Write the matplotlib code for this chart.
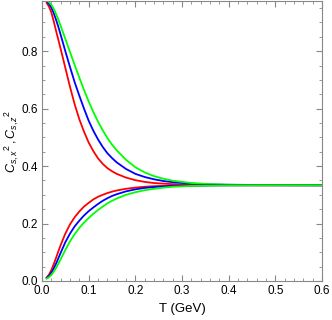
import matplotlib
matplotlib.use("Agg")
import matplotlib.pyplot as plt
from matplotlib.ticker import MultipleLocator

plt.rcParams['font.family'] = ['Liberation Sans', 'DejaVu Sans']
plt.rcParams['mathtext.fontset'] = 'custom'
plt.rcParams['mathtext.rm'] = 'Liberation Sans'
plt.rcParams['mathtext.it'] = 'Liberation Sans:italic'

# temperature grid (GeV)
T = [0.01, 0.015, 0.02, 0.025, 0.03, 0.035, 0.04,
     0.05, 0.06, 0.07, 0.08, 0.09, 0.10, 0.11, 0.12, 0.13, 0.14, 0.15, 0.16,
     0.18, 0.20, 0.22, 0.24, 0.26, 0.28,
     0.32, 0.36, 0.40,
     0.50, 0.60]

# upper branch
upper_red = [0.968, 0.955, 0.935, 0.905, 0.872, 0.840, 0.808,
             0.742, 0.676, 0.615, 0.563, 0.520, 0.482, 0.452, 0.427, 0.408,
             0.393, 0.382, 0.373,
             0.360, 0.351, 0.345, 0.341, 0.339, 0.337,
             0.335, 0.334, 0.3337,
             0.3334, 0.3333]
upper_blue = [0.974, 0.965, 0.952, 0.933, 0.910, 0.885, 0.857,
              0.800, 0.745, 0.692, 0.645, 0.600, 0.558, 0.523, 0.493, 0.467,
              0.445, 0.428, 0.413,
              0.390, 0.373, 0.362, 0.354, 0.348, 0.344,
              0.339, 0.336, 0.335,
              0.3337, 0.3334]
upper_green = [0.977, 0.971, 0.962, 0.948, 0.930, 0.910, 0.888,
               0.843, 0.797, 0.752, 0.708, 0.665, 0.625, 0.588, 0.555, 0.525,
               0.498, 0.475, 0.455,
               0.422, 0.396, 0.378, 0.365, 0.356, 0.349,
               0.341, 0.337, 0.335,
               0.3338, 0.3334]

# lower branch
lower_red = [0.012, 0.022, 0.038, 0.058, 0.080, 0.103, 0.125,
             0.165, 0.197, 0.222, 0.242, 0.259, 0.272, 0.284, 0.293, 0.300,
             0.306, 0.311, 0.315,
             0.321, 0.325, 0.328, 0.330, 0.331, 0.332,
             0.333, 0.3332, 0.3333,
             0.3333, 0.3333]
lower_blue = [0.010, 0.017, 0.028, 0.043, 0.060, 0.079, 0.098,
              0.135, 0.165, 0.190, 0.210, 0.228, 0.243, 0.256, 0.268, 0.279,
              0.288, 0.296, 0.302,
              0.312, 0.319, 0.324, 0.327, 0.329, 0.331,
              0.332, 0.333, 0.3332,
              0.3333, 0.3333]
lower_green = [0.008, 0.013, 0.021, 0.032, 0.045, 0.060, 0.076,
               0.108, 0.138, 0.163, 0.185, 0.203, 0.219, 0.234, 0.247, 0.259,
               0.270, 0.279, 0.287,
               0.300, 0.309, 0.316, 0.321, 0.325, 0.328,
               0.331, 0.332, 0.333,
               0.3333, 0.3333]

fig = plt.figure(figsize=(3.32, 3.2), dpi=100)
ax = fig.add_axes([0.1265, 0.122, 0.8435, 0.875])

lw = 1.3
ax.plot(T, upper_red, color="#ff0000", lw=lw)
ax.plot(T, upper_blue, color="#0000ff", lw=lw)
ax.plot(T, upper_green, color="#00ff00", lw=lw)
ax.plot(T, lower_red, color="#ff0000", lw=lw)
ax.plot(T, lower_blue, color="#0000ff", lw=lw)
ax.plot(T, lower_green, color="#00ff00", lw=lw)

ax.set_xlim(0, 0.6)
ax.set_ylim(0, 0.975)

ax.xaxis.set_major_locator(MultipleLocator(0.1))
ax.xaxis.set_minor_locator(MultipleLocator(0.02))
ax.yaxis.set_major_locator(MultipleLocator(0.2))
ax.yaxis.set_minor_locator(MultipleLocator(0.05))
ax.xaxis.set_major_formatter(plt.FuncFormatter(lambda v, p: "%.1f" % v))
ax.yaxis.set_major_formatter(plt.FuncFormatter(lambda v, p: "%.1f" % v))

ax.tick_params(which="both", direction="in", top=True, right=True,
               color="#888888", labelsize=8.5)
ax.tick_params(axis="x", pad=3)
ax.tick_params(axis="y", pad=3)
ax.tick_params(which="major", length=4, width=0.8)
ax.tick_params(which="minor", length=2.2, width=0.6)
for s in ax.spines.values():
    s.set_color("#888888")
    s.set_linewidth(0.8)

ax.set_xlabel("T (GeV)", fontsize=9.5, labelpad=4)
ax.set_ylabel(r"$C_{s,x}{}^{2}\,,C_{s,z}{}^{2}$", fontsize=9)
ax.yaxis.set_label_coords(-0.075, 0.5)

fig.savefig("out.png", dpi=100)
